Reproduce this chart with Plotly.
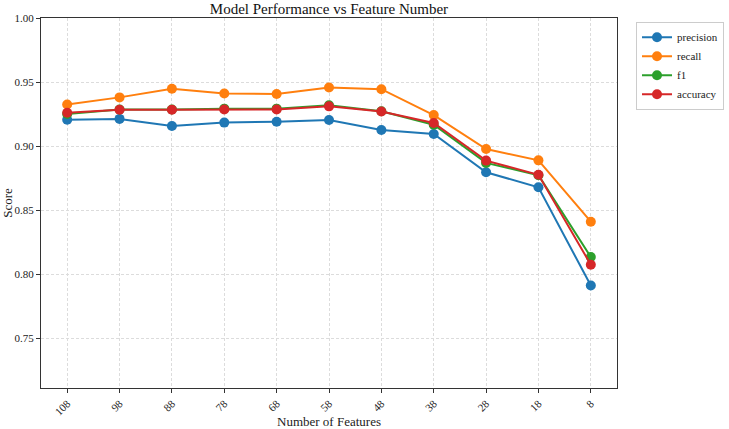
import plotly.graph_objects as go

features = [108, 98, 88, 78, 68, 58, 48, 38, 28, 18, 8]
precision = [0.9205, 0.9212, 0.9157, 0.9183, 0.9190, 0.9203, 0.9125, 0.9094, 0.8795, 0.8678, 0.7910]
recall = [0.9325, 0.9380, 0.9447, 0.9410, 0.9407, 0.9457, 0.9444, 0.9242, 0.8977, 0.8888, 0.8409]
f1 = [0.9250, 0.9285, 0.9285, 0.9292, 0.9292, 0.9318, 0.9272, 0.9166, 0.8868, 0.8772, 0.8133]
accuracy = [0.9260, 0.9283, 0.9283, 0.9285, 0.9285, 0.9310, 0.9270, 0.9180, 0.8886, 0.8775, 0.8073]

series = [("precision", precision, "#1f77b4"), ("recall", recall, "#ff7f0e"),
          ("f1", f1, "#2ca02c"), ("accuracy", accuracy, "#d62728")]

font = "Liberation Serif"
fig = go.Figure()
for name, vals, col in series:
    fig.add_trace(go.Scatter(x=features, y=vals, name=name, mode="lines+markers",
                             line=dict(color=col, width=2), marker=dict(color=col, size=10)))

axis_common = dict(showline=True, linecolor="#333333", linewidth=1, mirror=True,
                   showgrid=True, gridcolor="#dcdcdc", griddash="3px,2px", gridwidth=1,
                   ticks="outside", ticklen=4, tickcolor="#333333", zeroline=False,
                   tickfont=dict(family=font, size=11, color="#222"))
fig.update_xaxes(range=[113, 3], tickmode="array", tickvals=features,
                 ticktext=[str(f) for f in features], tickangle=-45,
                 title=dict(text="Number of Features", font=dict(family=font, size=13, color="#222"), standoff=6),
                 **axis_common)
fig.update_yaxes(range=[0.711, 1.0], tickmode="array", tickvals=[0.75, 0.80, 0.85, 0.90, 0.95, 1.00],
                 tickformat=".2f",
                 title=dict(text="Score", font=dict(family=font, size=13, color="#222"), standoff=4),
                 **axis_common)
fig.update_layout(
    width=729, height=429, template="none",
    paper_bgcolor="white", plot_bgcolor="white",
    margin=dict(l=41, r=112, t=18, b=41, autoexpand=False),
    title=dict(text="Model Performance vs Feature Number", x=(41 + 288) / 729, xanchor="center",
               y=1 - 9 / 429, yanchor="middle", font=dict(family=font, size=15, color="#111")),
    legend=dict(x=1.033, y=0.99, xanchor="left", yanchor="top", bgcolor="white",
                bordercolor="#cccccc", borderwidth=1, font=dict(family=font, size=11, color="#222"),
                tracegroupgap=0, itemwidth=30),
    font=dict(family=font),
)
fig.write_html("out.html")
